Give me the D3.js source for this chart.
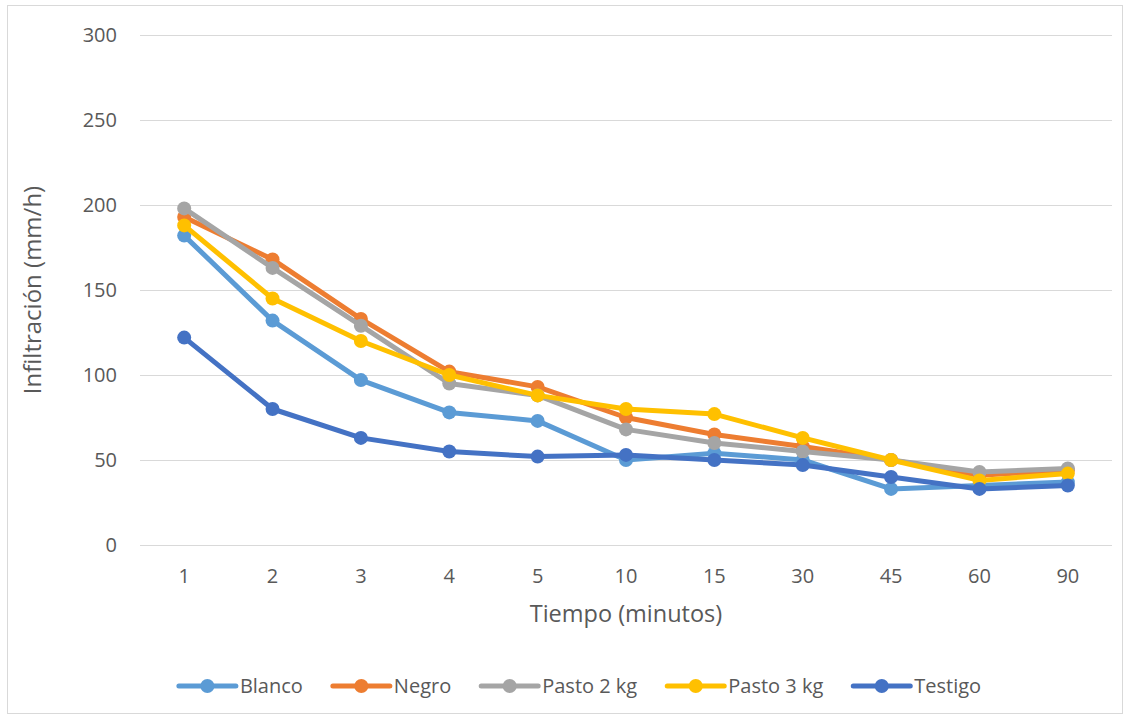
<!DOCTYPE html>
<html>
<head>
<meta charset="utf-8">
<script src="https://cdn.jsdelivr.net/npm/d3@7"></script>
<style>
  html, body { margin: 0; padding: 0; background: #fff; }
  svg { display: block; }
  text { font-family: "Open Sans", "Noto Sans", sans-serif; fill: #595959; }
</style>
</head>
<body>
<svg id="chart" width="1130" height="719"></svg>
<script>
const categories = ["1", "2", "3", "4", "5", "10", "15", "30", "45", "60", "90"];
const blanco   = [182, 132, 97, 78, 73, 50, 54, 50, 33, 35, 37];
const negro    = [193, 168, 133, 102, 93, 75, 65, 58, 50, 41, 44];
const pasto2   = [198, 163, 129, 95, 88, 68, 60, 55, 50, 43, 45];
const pasto3   = [188, 145, 120, 100, 88, 80, 77, 63, 50, 38, 42];
const testigo  = [122, 80, 63, 55, 52, 53, 50, 47, 40, 33, 35];
const seriesNames = ["Blanco", "Negro", "Pasto 2 kg", "Pasto 3 kg", "Testigo"];
const yTicks = [0, 50, 100, 150, 200, 250, 300];
const xTitle = "Tiempo (minutos)";
const yTitle = "Infiltración (mm/h)";

(function () {
const colors = ["#5B9BD5", "#ED7D31", "#A5A5A5", "#FFC000", "#4472C4"];
const seriesData = [blanco, negro, pasto2, pasto3, testigo];

const svg = d3.select("#chart");
svg.append("rect").attr("x", 7.5).attr("y", 5.5).attr("width", 1115).attr("height", 708)
  .attr("fill", "#fff").attr("stroke", "#d9d9d9").attr("stroke-width", 1);

const pLeft = 140, pRight = 1112, pTop = 35, pBottom = 545;
const x = d3.scaleBand().domain(categories).range([pLeft, pRight]);
const y = d3.scaleLinear().domain([0, 300]).range([pBottom, pTop]);

svg.append("g").selectAll("line").data(yTicks).join("line")
  .attr("x1", pLeft).attr("x2", pRight)
  .attr("y1", d => Math.round(y(d)) + 0.5).attr("y2", d => Math.round(y(d)) + 0.5)
  .attr("stroke", "#d9d9d9").attr("stroke-width", 1.2);

const yAxis = svg.append("g").attr("transform", `translate(${pLeft - 23},0)`)
  .call(d3.axisLeft(y).tickValues(yTicks).tickSize(0).tickPadding(0));
yAxis.select(".domain").remove();
yAxis.selectAll("text").attr("font-size", 20).style("fill", "#595959")
  .style("font-family", '"Open Sans", sans-serif');

const xAxis = svg.append("g").attr("transform", `translate(0,${pBottom + 24})`)
  .call(d3.axisBottom(x).tickSize(0).tickPadding(0));
xAxis.select(".domain").remove();
xAxis.selectAll("text").attr("font-size", 20).style("fill", "#595959")
  .style("font-family", '"Open Sans", sans-serif');

svg.append("text").attr("x", (pLeft + pRight) / 2).attr("y", 622)
  .attr("text-anchor", "middle").attr("font-size", 23.5).text(xTitle);
svg.append("text").attr("transform", `translate(41,${(pTop + pBottom) / 2}) rotate(-90)`)
  .attr("text-anchor", "middle").attr("font-size", 24).text(yTitle);

const line = d3.line().x((d, i) => x(categories[i]) + x.bandwidth() / 2).y(d => y(d));
seriesData.forEach((vals, si) => {
  const g = svg.append("g");
  g.append("path").datum(vals).attr("d", line).attr("fill", "none")
    .attr("stroke", colors[si]).attr("stroke-width", 5)
    .attr("stroke-linejoin", "round").attr("stroke-linecap", "round");
  g.selectAll("circle").data(vals).join("circle")
    .attr("cx", (d, i) => x(categories[i]) + x.bandwidth() / 2)
    .attr("cy", d => y(d)).attr("r", 7).attr("fill", colors[si]);
});

const legend = svg.append("g");
const legY = 686;
const items = seriesNames.map((name, i) => {
  const g = legend.append("g");
  g.append("line").attr("x1", 0).attr("x2", 57).attr("y1", 0).attr("y2", 0)
    .attr("stroke", colors[i]).attr("stroke-width", 5).attr("stroke-linecap", "round");
  g.append("circle").attr("cx", 28.5).attr("cy", 0).attr("r", 7).attr("fill", colors[i]);
  const t = g.append("text").attr("x", 61).attr("y", 7).attr("font-size", 20).text(name);
  return { g, w: 61 + t.node().getComputedTextLength() };
});
const gap = 30;
const total = d3.sum(items, d => d.w) + gap * (items.length - 1);
let cx = 580 - total / 2;
items.forEach(it => {
  it.g.attr("transform", `translate(${cx},${legY})`);
  cx += it.w + gap;
});
})();
</script>
</body>
</html>
